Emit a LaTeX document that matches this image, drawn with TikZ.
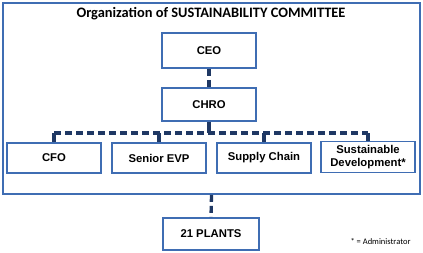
\documentclass[tikz,border=0pt]{standalone}
\usepackage{fontspec}
\setmainfont{Carlito}
\setsansfont{Liberation Sans}
\definecolor{boxblue}{HTML}{3F6DB3}
\definecolor{navy}{HTML}{1F3864}
\begin{document}
\begin{tikzpicture}[x=1pt,y=-1pt,
  orgbox/.style={draw=boxblue,line width=1.8pt,fill=white,minimum width=94pt,inner sep=0pt,
    font=\sffamily\bfseries\fontsize{11.3}{12}\selectfont,align=center},
  link/.style={draw=navy,line width=3.3pt,dash pattern=on 7pt off 4pt},
  drop/.style={draw=navy,line width=3.3pt}]
\useasboundingbox (0,0) rectangle (423,253);
\node[draw=boxblue,line width=1.8pt,minimum width=417pt,minimum height=191pt,inner sep=0pt] (frame) at (211.5,98.5) {};
\node[font=\bfseries\fontsize{14.4}{16}\selectfont] (title) at (211,14) {Organization of SUSTAINABILITY COMMITTEE};
\node[orgbox,minimum height=35pt] (ceo) at (209,50.5) {CEO};
\node[orgbox,minimum height=33pt] (chro) at (209,104.5) {CHRO};
\node[orgbox,minimum height=30pt] (cfo) at (54,158) {CFO};
\node[orgbox,minimum height=30pt] (evp) at (159,158) {Senior EVP};
\node[orgbox,minimum height=30pt] (sc) at (264,158) {Supply Chain};
\node[orgbox,minimum height=31pt,font=\sffamily\bfseries\fontsize{11.3}{12.5}\selectfont] (sd) at (368,157) {Sustainable\\Development*};
\node[orgbox,minimum width=96pt,minimum height=32pt] (plants) at (211,234) {21 PLANTS};
\node[anchor=east,font=\fontsize{8.5}{10}\selectfont] (note) at (414,242) {* = Administrator};
\coordinate (busL) at (54,133);
\coordinate (busR) at (368,133);
\draw[link] (ceo) -- (chro);
\draw[drop] (chro.south) -- (chro.south |- busL);
\draw[link] (busL) -- (busR);
\draw[drop] (cfo.north) -- (busL);
\draw[drop] (evp.north) -- (evp.north |- busL);
\draw[drop] (sc.north) -- (sc.north |- busL);
\draw[drop] (sd.north) -- (busR);
\draw[link] (frame.south) -- (plants.north);
\end{tikzpicture}
\end{document}
